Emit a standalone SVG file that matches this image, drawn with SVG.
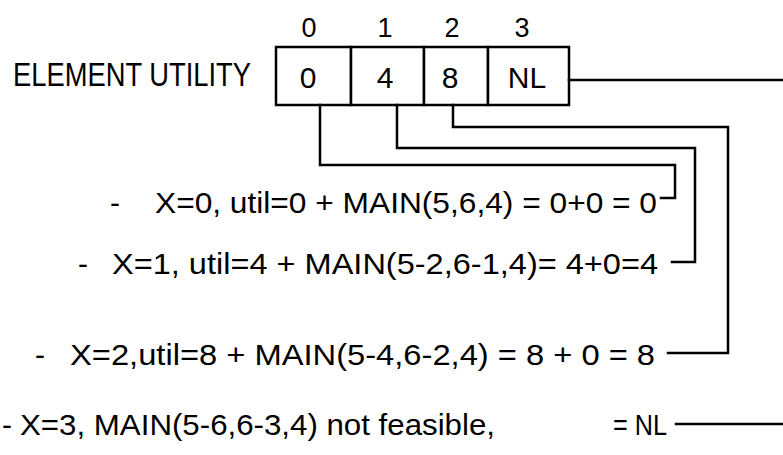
<svg xmlns="http://www.w3.org/2000/svg" width="783" height="455" viewBox="0 0 783 455">
  <style>
    .t { font-family: "Liberation Sans", "DejaVu Sans", sans-serif; fill: #000; }
    .lbl { font-size: 33px; }
    .idx { font-size: 27px; text-anchor: middle; }
    .val { font-size: 30px; text-anchor: middle; }
    .row { font-size: 30px; }
    .box { fill: #fff; stroke: #000; stroke-width: 2.5; }
    .wire { fill: none; stroke: #000; stroke-width: 2.5; stroke-linejoin: miter; stroke-linecap: square; }
  </style>
  <rect width="783" height="455" fill="#fff"/>

  <!-- array header -->
  <g id="label">
    <text class="t lbl" x="13" y="86" textLength="238" lengthAdjust="spacingAndGlyphs">ELEMENT UTILITY</text>
  </g>

  <g id="indices">
    <text class="t idx" x="309" y="37">0</text>
    <text class="t idx" x="385" y="37">1</text>
    <text class="t idx" x="452" y="37">2</text>
    <text class="t idx" x="522" y="37">3</text>
  </g>

  <g id="cell-0">
    <rect class="box" x="276" y="47" width="75" height="58"/>
    <text class="t val" x="308" y="88">0</text>
  </g>
  <g id="cell-1">
    <rect class="box" x="351" y="47" width="73" height="58"/>
    <text class="t val" x="385" y="88">4</text>
  </g>
  <g id="cell-2">
    <rect class="box" x="424" y="47" width="64" height="58"/>
    <text class="t val" x="450" y="88">8</text>
  </g>
  <g id="cell-3">
    <rect class="box" x="488" y="47" width="81" height="58"/>
    <text class="t val" x="527" y="88">NL</text>
  </g>

  <!-- computation rows -->
  <g id="row-0">
    <text class="t row" x="110" y="213">-</text>
    <text class="t row" x="155" y="213" textLength="502" lengthAdjust="spacingAndGlyphs">X=0, util=0 + MAIN(5,6,4) = 0+0 = 0</text>
  </g>
  <g id="row-1">
    <text class="t row" x="78" y="274">-</text>
    <text class="t row" x="112" y="274" textLength="546" lengthAdjust="spacingAndGlyphs">X=1, util=4 + MAIN(5-2,6-1,4)= 4+0=4</text>
  </g>
  <g id="row-2">
    <text class="t row" x="35" y="365">-</text>
    <text class="t row" x="70" y="365" textLength="585" lengthAdjust="spacingAndGlyphs">X=2,util=8 + MAIN(5-4,6-2,4) = 8 + 0 = 8</text>
  </g>
  <g id="row-3">
    <text class="t row" x="2" y="435">-</text>
    <text class="t row" x="20" y="435" textLength="475" lengthAdjust="spacingAndGlyphs">X=3,  MAIN(5-6,6-3,4) not feasible,</text>
    <text class="t row" x="613" y="435" textLength="54" lengthAdjust="spacingAndGlyphs">= NL</text>
  </g>

  <!-- connectors -->
  <g id="connectors">
    <path class="wire" d="M320 105 V165 H675 V198 H661"/>
    <path class="wire" d="M397 105 V148 H695 V262 H672"/>
    <path class="wire" d="M453 105 V127 H728 V353 H668"/>
    <path class="wire" d="M569 80 H785"/>
    <path class="wire" d="M676 424 H785"/>
  </g>
</svg>
